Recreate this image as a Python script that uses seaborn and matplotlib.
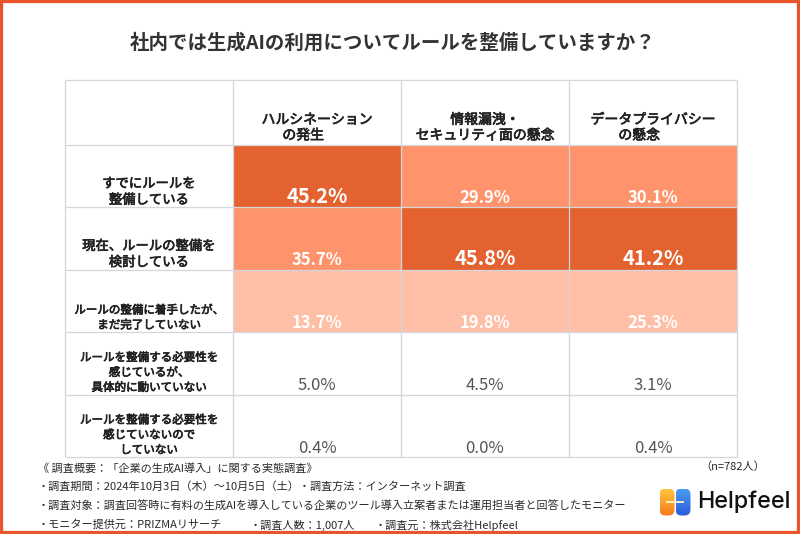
import numpy as np
import pandas as pd
import seaborn as sns
import matplotlib.pyplot as plt
import matplotlib.patheffects as pe
from matplotlib.colors import ListedColormap, BoundaryNorm, LinearSegmentedColormap
from matplotlib.patches import Rectangle, FancyBboxPatch

# data (percent)
concerns = ["ハルシネーション\nの発生\u3000\u3000", "情報漏洩・\nセキュリティ面の懸念", "データプライバシー\nの懸念\u3000\u3000"]
answers = [
    "すでにルールを\n整備している",
    "現在、ルールの整備を\n検討している",
    "ルールの整備に着手したが、\nまだ完了していない",
    "ルールを整備する必要性を\n感じているが、\n具体的に動いていない",
    "ルールを整備する必要性を\n感じていないので\nしていない",
]
hallucination = [45.2, 35.7, 13.7, 5.0, 0.4]
leak_security = [29.9, 45.8, 19.8, 4.5, 0.0]
privacy = [30.1, 41.2, 25.3, 3.1, 0.4]

title = "社内では生成AIの利用についてルールを整備していますか？"
footer_lines = [
    "《 調査概要：「企業の生成AI導入」に関する実態調査》",
    "・調査期間：2024年10月3日（木）～10月5日（土）・調査方法：インターネット調査",
    "・調査対象：調査回答時に有料の生成AIを導入している企業のツール導入立案者または運用担当者と回答したモニター",
]
footer_last = ["・モニター提供元：PRIZMAリサーチ", "・調査人数：1,007人", "・調査元：株式会社Helpfeel"]
sample_note = "（n=782人）"

df = pd.DataFrame({concerns[0]: hallucination, concerns[1]: leak_security, concerns[2]: privacy}, index=answers)

sns.set_style("white")
plt.rcParams["font.family"] = ["Noto Sans CJK JP", "DejaVu Sans"]

W, H = 800, 534
fig = plt.figure(figsize=(8, 5.34), dpi=100)

# table axes: x 65-737, y 80-457 px
ax = fig.add_axes([65 / W, 1 - 457 / H, 672 / W, 377 / H])
colors = ["#FFFFFF", "#FFBEA6", "#FF936B", "#E4622F"]
cmap = ListedColormap(colors)
norm = BoundaryNorm([0, 10, 26, 40, 100], 4)
sns.heatmap(df, ax=ax, cmap=cmap, norm=norm, cbar=False, linewidths=0)
ax.set_xlim(-1, 3)
ax.set_ylim(5, -1.04)
ax.set_xticks([])
ax.set_yticks([])
ax.set_xlabel("")
ax.set_ylabel("")
for s in ax.spines.values():
    s.set_visible(False)

grid_c = "#D3D6DE"
for x in range(-1, 4):
    ax.vlines(x, -1.04, 5, color=grid_c, lw=0.9, clip_on=False, zorder=3)
for y in [-1.04, 0, 1, 2, 3, 4, 5]:
    ax.hlines(y, -1, 3, color=grid_c, lw=0.9, clip_on=False, zorder=3)

# semi-bold look: regular weight plus a thin stroke
semi = [pe.withStroke(linewidth=0.5, foreground="#222222")]

# column headers
for j, c in enumerate(df.columns):
    ax.text(j + 0.5, -0.04, c, ha="center", va="bottom", fontsize=10,
            color="#222222", linespacing=1.15, multialignment="center", path_effects=semi)

# row labels and values
label_sizes = [9.6, 9.6, 8.3, 8.3, 8.3]
for i, r in enumerate(df.index):
    ax.text(-0.5, i + 0.99, r, ha="center", va="bottom", fontsize=label_sizes[i],
            color="#222222", linespacing=1.2, multialignment="center", path_effects=semi)
    for j, c in enumerate(df.columns):
        v = df.loc[r, c]
        if v >= 40:
            kw = dict(fontsize=14.5, fontweight="bold", color="white")
        elif v >= 10:
            kw = dict(fontsize=12, fontweight="bold", color="white")
        else:
            kw = dict(fontsize=12, fontweight="normal", color="#555555")
        ax.text(j + 0.5, i + 0.93, f"{v:.1f}%", ha="center", va="baseline", zorder=4, **kw)

fig.text(393 / W, 1 - 43 / H, title, ha="center", va="center", fontsize=14,
         fontweight="bold", color="#333333")

# footer
for k, line in enumerate(footer_lines):
    fig.text(38 / W, 1 - (468 + 19 * k) / H, line, ha="left", va="center", fontsize=8, color="#2A2A2A")
for x, t in zip([38, 250, 375], footer_last):
    fig.text(x / W, 1 - 525 / H, t, ha="left", va="center", fontsize=8, color="#2A2A2A")
fig.text(765 / W, 1 - 467 / H, sample_note, ha="right", va="center", fontsize=8, color="#2A2A2A")

# logo
lax = fig.add_axes([659 / W, 1 - 516 / H, 32 / W, 28 / H])
lax.set_xlim(0, 32)
lax.set_ylim(0, 28)
lax.axis("off")
grad = np.linspace(0, 1, 64).reshape(-1, 1)
for x0, cols in [(0.5, ["#F47A1F", "#FFC53A"]), (16.5, ["#2C5BD8", "#4A9BF2"])]:
    pill = FancyBboxPatch((x0, 0.5), 15, 27, boxstyle="round,pad=0,rounding_size=6",
                          fc="none", ec="none")
    lax.add_patch(pill)
    im = lax.imshow(grad, extent=(x0, x0 + 15, 0.5, 27.5), origin="lower",
                    cmap=LinearSegmentedColormap.from_list("g", cols), aspect="auto")
    im.set_clip_path(pill)
lax.hlines(14, 7, 25, color="#FFF6C8", lw=1.3)
fig.text(697 / W, 1 - 502 / H, "Helpfeel", ha="left", va="center", fontsize=16.8,
         family="Inter", fontweight="medium", color="#111111")

# orange frame
fig.add_artist(Rectangle((0, 0), 1, 1, transform=fig.transFigure, fill=False,
                         ec="#E8552A", lw=4.5))

fig.savefig("out.png", dpi=100)
